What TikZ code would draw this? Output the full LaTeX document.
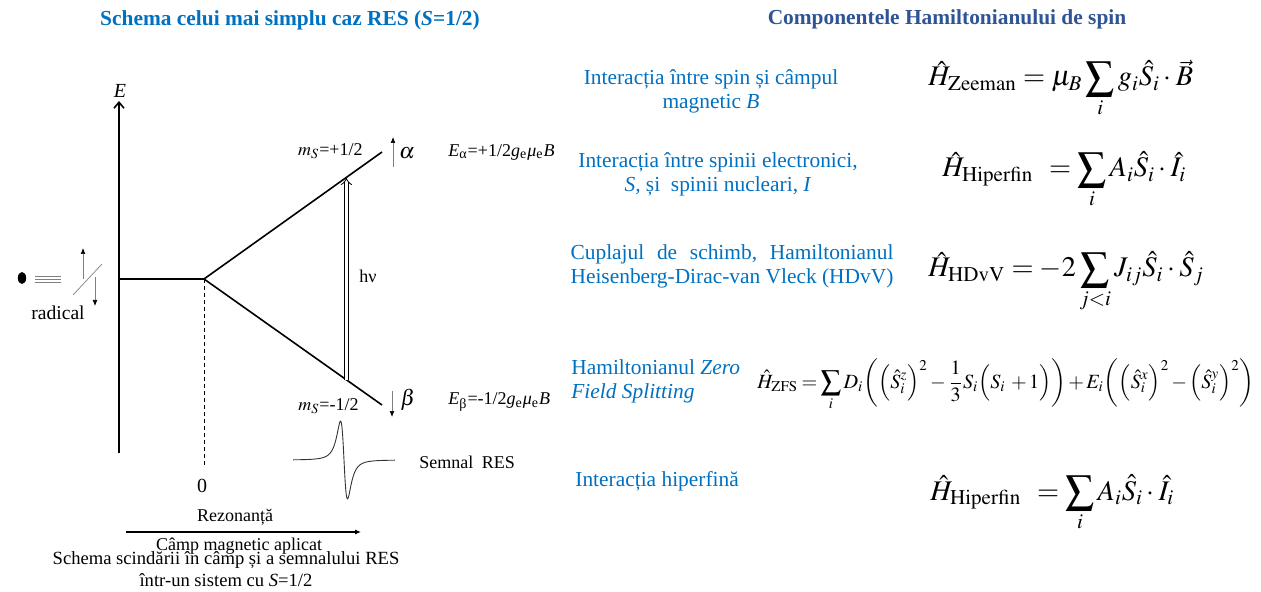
\documentclass[tikz,border=0pt]{standalone}
\usepackage{mathptmx}
\usepackage{fontspec}
\setmainfont{Liberation Serif}
\usetikzlibrary{arrows.meta,positioning,calc}
\definecolor{titleblue}{RGB}{0,112,192}
\definecolor{headblue}{RGB}{47,84,150}
\definecolor{textblue}{RGB}{0,112,192}

\begin{document}
\begin{tikzpicture}[
  x=0.5pt,y=-0.5pt,
  headline/.style={font=\fontsize{10.7}{13}\selectfont\bfseries,inner sep=0pt},
  bluetxt/.style={text=textblue,font=\fontsize{10.7}{12}\selectfont,align=center,inner sep=0pt},
  eqnode/.style={anchor=base west,inner sep=0pt,font=\fontsize{14.2}{17}\selectfont},
  lbl/.style={font=\fontsize{9}{11}\selectfont,inner sep=0pt},
  level/.style={line width=0.8pt},
  spinarrow/.style={gray,line width=0.35pt,-{Latex[black,length=3pt,width=2.4pt]}}
]
  \useasboundingbox (0,0) rectangle (1261,592);

  \node[headline,text=titleblue] (title1) at (290,20) {Schema celui mai simplu caz RES (\textit{S}=1/2)};
  \node[headline,text=headblue] (title2) at (947,19) {Componentele Hamiltonianului de spin};

  % diagrama nivelelor
  \coordinate (orig) at (119,453);
  \coordinate (etop) at (119,101);
  \coordinate (lvl) at (119,279);
  \coordinate (split) at (204,279);
  \coordinate (up) at (382,152);
  \coordinate (dn) at (382,405);
  \coordinate (zero) at (204,468);
  \draw[level,-{Straight Barb[length=3pt,width=5pt]}] (orig) -- (etop);
  \node[lbl,font=\fontsize{10}{12}\selectfont\itshape] (elbl) at (120,91) {E};
  \draw[level] (lvl) -- (split) -- (up);
  \draw[level] (split) -- (dn);
  \draw[line width=0.45pt,dash pattern=on 2pt off 1.5pt] (split) -- (zero);
  \node[lbl,font=\fontsize{10}{12}\selectfont] (zlbl) at (202,486) {0};

  \coordinate (hvlo) at ($(split)!0.80!(dn)$);
  \coordinate (hvhi) at ($(split)!0.80!(up)$);
  \draw[double,double distance=1.6pt,line width=0.4pt,-{Implies}] (hvlo) -- (hvhi);
  \node[lbl] (hv) at (368,276) {hν};

  \node[lbl,anchor=east] (msup) at (363,151) {$m_S$=+1/2};
  \node[lbl,font=\fontsize{11}{13}\selectfont] (alpha) at (407,153) {$\alpha$};
  \node[lbl,anchor=west] (ealpha) at (448,152) {\textit{E}\textsubscript{α}=+1/2\textit{g}\textsubscript{e}\textit{μ}\textsubscript{e}\textit{B}};
  \node[lbl,anchor=east] (msdn) at (359,406) {$m_S$=-1/2};
  \node[lbl,font=\fontsize{11}{13}\selectfont] (beta) at (408,400) {$\beta$};
  \node[lbl,anchor=west] (ebeta) at (448,402) {\textit{E}\textsubscript{β}=-1/2\textit{g}\textsubscript{e}\textit{μ}\textsubscript{e}\textit{B}};
  \coordinate (aa1) at (393,167);
  \coordinate (aa2) at (393,137);
  \coordinate (bb1) at (392,391);
  \coordinate (bb2) at (392,417);
  \draw[spinarrow] (aa1) -- (aa2);
  \draw[spinarrow] (bb1) -- (bb2);

  % semnalul RES
  \draw[line width=0.45pt,black!80] plot[domain=-8.5:8.5,samples=200,smooth] ({344+6*\x},{460-120*(-\x)/((1+\x*\x)^2)});
  \node[lbl,anchor=west] (semnal) at (419,462) {Semnal\hspace{2pt} RES};

  % radicalul
  \fill (22,278) ellipse [x radius=2.1pt,y radius=3pt];
  \foreach \yy in {276,279,282}
    \draw[gray,line width=0.35pt] (35,\yy) -- (61,\yy);
  \coordinate (sl1) at (73,295);
  \coordinate (sl2) at (102,264);
  \draw[gray,line width=0.35pt] (sl1) -- (sl2);
  \coordinate (ru1) at (83,279);
  \coordinate (ru2) at (83,248);
  \coordinate (rd1) at (95,277);
  \coordinate (rd2) at (95,306);
  \draw[spinarrow] (ru1) -- (ru2);
  \draw[spinarrow] (rd1) -- (rd2);
  \node[lbl,font=\fontsize{9.8}{12}\selectfont] (rad) at (58,313) {radical};

  % axa campului
  \coordinate (b1) at (126,532);
  \coordinate (b2) at (361,532);
  \node[lbl] (rez) at (235,517) {Rezonanță};
  \draw[line width=0.6pt,-{Latex[length=3pt,width=2.6pt]}] (b1) -- (b2);
  \node[lbl] (camp) at (239,546) {Câmp magnetic aplicat};
  \node[lbl,font=\fontsize{9.3}{11}\selectfont,align=center] (capt) at (226,569) {Schema scindării în câmp și a semnalului RES\\într-un sistem cu \textit{S}=1/2};

  % componentele Hamiltonianului
  \node[bluetxt] (t1) at (711,91) {Interacția între spin și câmpul\\magnetic \textit{B}};
  \node[eqnode] (eq1) at (928,86) {$\displaystyle \hat{H}_{\mathrm{Zeeman}} = \mu_B\sum_i g_i\hat{S}_i\cdot\vec{B}$};

  \node[bluetxt] (t2) at (718,174) {Interacția între spinii electronici,\\\textit{S,} și\ \ spinii nucleari, \textit{I}};
  \node[eqnode] (eq2) at (942,177) {$\displaystyle \hat{H}_{\mathrm{Hiperfin}}\;\, = \sum_i A_i\hat{S}_i\cdot\hat{I}_i$};

  \node[bluetxt] (t3) at (732,266) {\setbox0\hbox{Heisenberg-Dirac-van Vleck (HDvV)}\vbox{\hbox to \wd0{Cuplajul\hfill de\hfill schimb,\hfill Hamiltonianul}\box0}};
  \node[eqnode] (eq3) at (928,277) {$\displaystyle \hat{H}_{\mathrm{HDvV}} = -2\sum_{j<i} J_{ij}\hat{S}_i\cdot\hat{S}_j$};

  \node[bluetxt,align=left,anchor=west] (t4) at (571,381) {Hamiltonianul \textit{Zero}\\\textit{Field Splitting}};
  \node[eqnode,font=\fontsize{10.1}{12}\selectfont] (eq4) at (757,388) {\medmuskip=2mu\thickmuskip=3mu$\displaystyle \hat{H}_{\mathrm{ZFS}} = \sum_i D_i\biggl(\Bigl(\hat{S}_i^{z}\Bigr)^2-\frac{1}{3}S_i\Bigl(S_i\;+1\Bigr)\biggr)+E_i\biggl(\Bigl(\hat{S}_i^{x}\Bigr)^2-\Bigl(\hat{S}_i^{y}\Bigr)^2\biggr)$};

  \node[bluetxt,anchor=west] (t5) at (575,481) {Interacția hiperfină};
  \node[eqnode] (eq5) at (930,500) {$\displaystyle \hat{H}_{\mathrm{Hiperfin}}\;\, = \sum_i A_i\hat{S}_i\cdot\hat{I}_i$};
\end{tikzpicture}
\end{document}
